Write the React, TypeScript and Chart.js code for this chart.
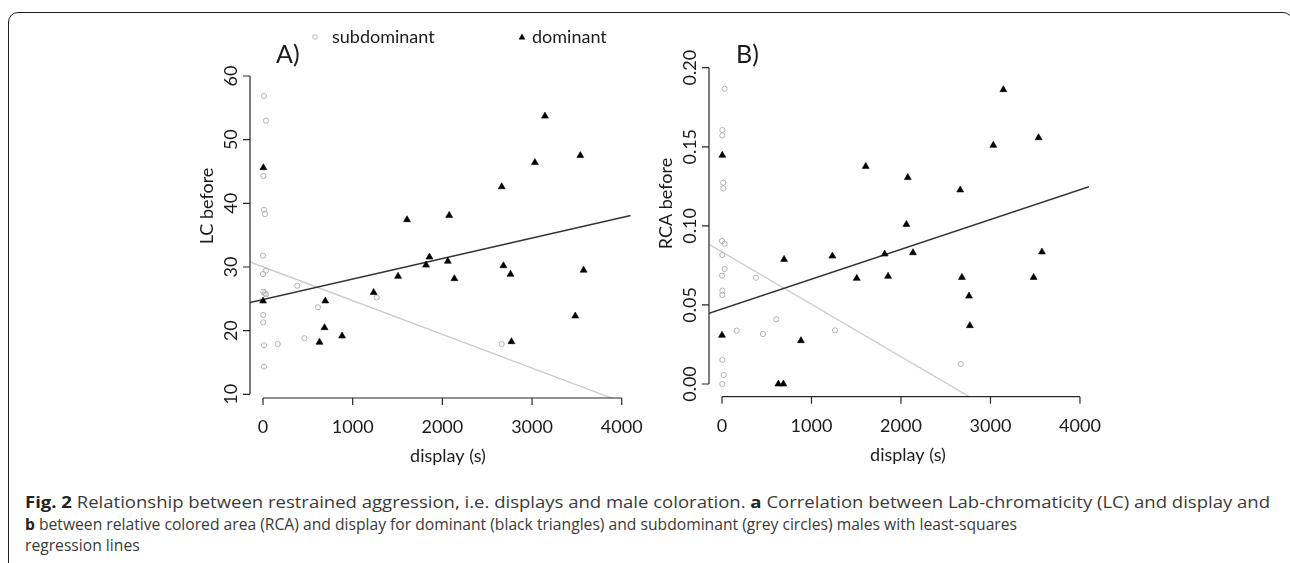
import React, { useEffect, useLayoutEffect, useRef } from "react";
import { Chart, registerables } from "chart.js";

Chart.register(...registerables);

// ---------- data ----------
const xTicks = [0, 1000, 2000, 3000, 4000];
const xTickLabels = ["0", "1000", "2000", "3000", "4000"];
const lcTicks = [10, 20, 30, 40, 50, 60];
const lcTickLabels = ["10", "20", "30", "40", "50", "60"];
const rcaTicks = [0, 0.05, 0.1, 0.15, 0.2];
const rcaTickLabels = ["0.00", "0.05", "0.10", "0.15", "0.20"];

// dominant males (black triangles), display time in s
const dominantDisplay = [0, 4, 630, 686, 694, 882, 1234, 1506, 1606, 1818, 1856, 2061, 2076, 2134, 2662, 2681, 2760, 2770, 3032, 3144, 3482, 3538, 3575];
const dominantLC = [24.66, 45.6, 18.17, 20.47, 24.66, 19.16, 26.0, 28.53, 37.43, 30.3, 31.57, 30.9, 38.1, 28.17, 42.6, 30.2, 28.85, 18.27, 46.4, 53.7, 22.3, 47.5, 29.5];
const dominantRCA = [0.0308, 0.1446, 0.0, 0.0, 0.0788, 0.0274, 0.0809, 0.0668, 0.1376, 0.0822, 0.0681, 0.1009, 0.1305, 0.083, 0.1227, 0.0674, 0.0556, 0.0369, 0.1509, 0.1861, 0.0674, 0.1557, 0.0835];

// subdominant males (grey circles)
const subLCDisplay = [11, 33, 4, 11, 22, 0, 0, 33, 3, 19, 33, 3, 3, 11, 164, 11, 382, 461, 613, 1267, 2661];
const subLC = [56.86, 52.98, 44.29, 39.0, 38.32, 31.77, 28.9, 29.42, 26.12, 25.87, 25.7, 22.46, 21.3, 17.7, 17.9, 14.34, 27.06, 18.8, 23.67, 25.2, 17.9];
const subRCADisplay = [30, 4, 4, 15, 15, 0, 30, 4, 30, 0, 380, 4, 4, 607, 164, 458, 1263, 4, 19, 4, 2667];
const subRCA = [0.1867, 0.1606, 0.1572, 0.1273, 0.1237, 0.0904, 0.0887, 0.0816, 0.0727, 0.0685, 0.0672, 0.059, 0.0563, 0.0409, 0.0337, 0.0316, 0.0339, 0.0152, 0.0057, 0.0, 0.0126];

// least-squares fits: [intercept, slope]
const lcFitDominant = [24.87, 0.003227];
const lcFitSub = [30.02, -0.005302];
const rcaFitDominant = [0.0474, 1.887e-5];
const rcaFitSub = [0.0835, -3.312e-5];

const legendLabels = ["subdominant", "dominant"];
const xTitle = "display (s)";

// ---------- helpers ----------
const FONT = "Lato, 'Open Sans', sans-serif";
const zip = (xs: number[], ys: number[]) => xs.map((x, i) => ({ x, y: ys[i] }));
const fitLine = (fit: number[], xmin: number, xmax: number) => [
  { x: xmin, y: fit[0] + fit[1] * xmin },
  { x: xmax, y: fit[0] + fit[1] * xmax },
];

const rAxesPlugin = {
  id: "rAxes",
  afterDraw(chart: any, _args: any, o: any) {
    const { ctx, chartArea: ca, scales } = chart;
    const sx = scales.x;
    const sy = scales.y;
    ctx.save();
    ctx.strokeStyle = "#262626";
    ctx.fillStyle = "#1c1c1c";
    ctx.lineWidth = 1.2;

    // x axis
    const yb = ca.bottom;
    ctx.beginPath();
    ctx.moveTo(sx.getPixelForValue(o.xTicks[0]), yb);
    ctx.lineTo(sx.getPixelForValue(o.xTicks[o.xTicks.length - 1]), yb);
    o.xTicks.forEach((v: number) => {
      const px = sx.getPixelForValue(v);
      ctx.moveTo(px, yb);
      ctx.lineTo(px, yb + 7);
    });
    // y axis
    const xl = ca.left;
    ctx.moveTo(xl, sy.getPixelForValue(o.yTicks[0]));
    ctx.lineTo(xl, sy.getPixelForValue(o.yTicks[o.yTicks.length - 1]));
    o.yTicks.forEach((v: number) => {
      const py = sy.getPixelForValue(v);
      ctx.moveTo(xl, py);
      ctx.lineTo(xl - 7, py);
    });
    ctx.stroke();

    ctx.font = `18px ${FONT}`;
    ctx.textAlign = "center";
    ctx.textBaseline = "alphabetic";
    o.xTicks.forEach((v: number, i: number) => {
      ctx.fillText(o.xLabels[i], sx.getPixelForValue(v), yb + 35);
    });
    ctx.fillText(o.xTitle, o.xTitleX, yb + 64);

    o.yTicks.forEach((v: number, i: number) => {
      ctx.save();
      ctx.translate(xl - 13.5, sy.getPixelForValue(v));
      ctx.rotate(-Math.PI / 2);
      ctx.fillText(o.yLabels[i], 0, 0);
      ctx.restore();
    });
    ctx.save();
    ctx.translate(xl - 37, o.yTitleY);
    ctx.rotate(-Math.PI / 2);
    ctx.fillText(o.yTitle, 0, 0);
    ctx.restore();

    // panel label
    ctx.font = `25px ${FONT}`;
    ctx.textAlign = "left";
    ctx.fillText(o.panel, o.panelX, 63);

    // legend
    if (o.legend) {
      ctx.font = `18px ${FONT}`;
      ctx.textAlign = "left";
      const [cx1, cx2] = o.legendX;
      ctx.strokeStyle = "#b4b4b4";
      ctx.lineWidth = 1;
      ctx.beginPath();
      ctx.arc(cx1, 37, 2.3, 0, Math.PI * 2);
      ctx.stroke();
      ctx.fillText(o.legend[0], cx1 + 17, 43);
      ctx.fillStyle = "#000";
      ctx.beginPath();
      ctx.moveTo(cx2, 33.5);
      ctx.lineTo(cx2 + 3.3, 39.5);
      ctx.lineTo(cx2 - 3.3, 39.5);
      ctx.closePath();
      ctx.fill();
      ctx.fillStyle = "#1c1c1c";
      ctx.fillText(o.legend[1], cx2 + 10, 43);
    }
    ctx.restore();
  },
};

type PanelProps = {
  left: number;
  width: number;
  height: number;
  padding: { left: number; right: number; top: number; bottom: number };
  xRange: [number, number];
  yRange: [number, number];
  dom: { x: number; y: number }[];
  sub: { x: number; y: number }[];
  domFit: number[];
  subFit: number[];
  axes: any;
};

function Panel(p: PanelProps) {
  const ref = useRef<HTMLCanvasElement>(null);
  useEffect(() => {
    const chart = new Chart(ref.current as HTMLCanvasElement, {
      type: "scatter",
      data: {
        datasets: [
          {
            label: "dominant",
            data: p.dom,
            pointStyle: "triangle",
            pointRadius: 4,
            backgroundColor: "#000",
            borderColor: "#000",
            borderWidth: 0.6,
          },
          {
            label: "subdominant",
            data: p.sub,
            pointStyle: "circle",
            pointRadius: 2.6,
            backgroundColor: "rgba(0,0,0,0)",
            borderColor: "#b2b2b2",
            borderWidth: 1,
          },
          {
            type: "line",
            label: "fit dominant",
            data: fitLine(p.domFit, p.xRange[0], p.xRange[1]),
            borderColor: "#333",
            borderWidth: 1.5,
            pointRadius: 0,
            fill: false,
          } as any,
          {
            type: "line",
            label: "fit subdominant",
            data: fitLine(p.subFit, p.xRange[0], p.xRange[1]),
            borderColor: "#cacaca",
            borderWidth: 1.3,
            pointRadius: 0,
            fill: false,
          } as any,
        ],
      },
      options: {
        responsive: false,
        animation: false,
        layout: { padding: p.padding },
        scales: {
          x: { type: "linear", min: p.xRange[0], max: p.xRange[1], display: false },
          y: { type: "linear", min: p.yRange[0], max: p.yRange[1], display: false },
        },
        plugins: {
          legend: { display: false },
          tooltip: { enabled: false },
          rAxes: p.axes,
        } as any,
      },
      plugins: [rAxesPlugin],
    });
    return () => chart.destroy();
  }, []);
  return (
    <canvas
      ref={ref}
      width={p.width}
      height={p.height}
      style={{ position: "absolute", left: p.left, top: 0, width: p.width, height: p.height }}
    />
  );
}

// target right-end widths of caption lines 1 and 2
const LINE_TARGETS = [1245, 992];

function Caption() {
  const l1Ref = useRef<HTMLDivElement>(null);
  const l2Ref = useRef<HTMLDivElement>(null);
  const l3Ref = useRef<HTMLDivElement>(null);
  const s1Ref = useRef<HTMLSpanElement>(null);
  const s2Ref = useRef<HTMLSpanElement>(null);
  useLayoutEffect(() => {
    const w1 = s1Ref.current ? s1Ref.current.getBoundingClientRect().width : 0;
    const w2 = s2Ref.current ? s2Ref.current.getBoundingClientRect().width : 0;
    if (w1 > 0 && l1Ref.current) l1Ref.current.style.transform = `scaleX(${LINE_TARGETS[0] / w1})`;
    if (w2 > 0) {
      const s2 = LINE_TARGETS[1] / w2;
      if (l2Ref.current) l2Ref.current.style.transform = `scaleX(${s2})`;
      if (l3Ref.current) l3Ref.current.style.transform = `scaleX(${s2})`;
    }
  }, []);
  const lineStyle: React.CSSProperties = {
    whiteSpace: "nowrap",
    height: 21.5,
    transformOrigin: "0 0",
  };
  return (
    <div
      style={{
        position: "absolute",
        left: 25,
        top: 492,
        fontFamily: "'Open Sans', sans-serif",
        fontSize: 16,
        lineHeight: "21.5px",
        color: "#3a3a3a",
      }}
    >
      <div ref={l1Ref} style={lineStyle}>
        <span ref={s1Ref}>
          <b style={{ color: "#222" }}>Fig. 2</b> Relationship between restrained aggression, i.e. displays and male coloration.{" "}
          <b style={{ color: "#222" }}>a</b> Correlation between Lab-chromaticity (LC) and display and
        </span>
      </div>
      <div ref={l2Ref} style={lineStyle}>
        <span ref={s2Ref}>
          <b style={{ color: "#222" }}>b</b> between relative colored area (RCA) and display for dominant (black triangles) and subdominant (grey circles) males with least-squares
        </span>
      </div>
      <div ref={l3Ref} style={lineStyle}>regression lines</div>
    </div>
  );
}

export default function App() {
  return (
    <div
      style={{
        position: "absolute",
        left: 0,
        top: 0,
        width: 1290,
        height: 563,
        overflow: "hidden",
        background: "#fff",
      }}
    >
      <div
        style={{
          position: "absolute",
          left: 8,
          top: 12,
          width: 1285,
          height: 700,
          boxSizing: "border-box",
          border: "1.5px solid #1e1e1e",
          borderRadius: 10,
        }}
      />
      <Panel
        left={180}
        width={480}
        height={480}
        padding={{ left: 70, right: 29.3, top: 65, bottom: 82 }}
        xRange={[-145, 4100]}
        yRange={[9.42, 61.73]}
        dom={zip(dominantDisplay, dominantLC)}
        sub={zip(subLCDisplay, subLC)}
        domFit={lcFitDominant}
        subFit={lcFitSub}
        axes={{
          xTicks,
          xLabels: xTickLabels,
          yTicks: lcTicks,
          yLabels: lcTickLabels,
          xTitle,
          xTitleX: 268,
          yTitle: "LC before",
          yTitleY: 206,
          panel: "A)",
          panelX: 96,
          legend: legendLabels,
          legendX: [135, 342],
        }}
      />
      <Panel
        left={640}
        width={480}
        height={480}
        padding={{ left: 69, right: 31, top: 60, bottom: 83.3 }}
        xRange={[-145, 4101]}
        yRange={[-0.00803, 0.20487]}
        dom={zip(dominantDisplay, dominantRCA)}
        sub={zip(subRCADisplay, subRCA)}
        domFit={rcaFitDominant}
        subFit={rcaFitSub}
        axes={{
          xTicks,
          xLabels: xTickLabels,
          yTicks: rcaTicks,
          yLabels: rcaTickLabels,
          xTitle,
          xTitleX: 268,
          yTitle: "RCA before",
          yTitleY: 203.5,
          panel: "B)",
          panelX: 96,
        }}
      />
      <Caption />
    </div>
  );
}
